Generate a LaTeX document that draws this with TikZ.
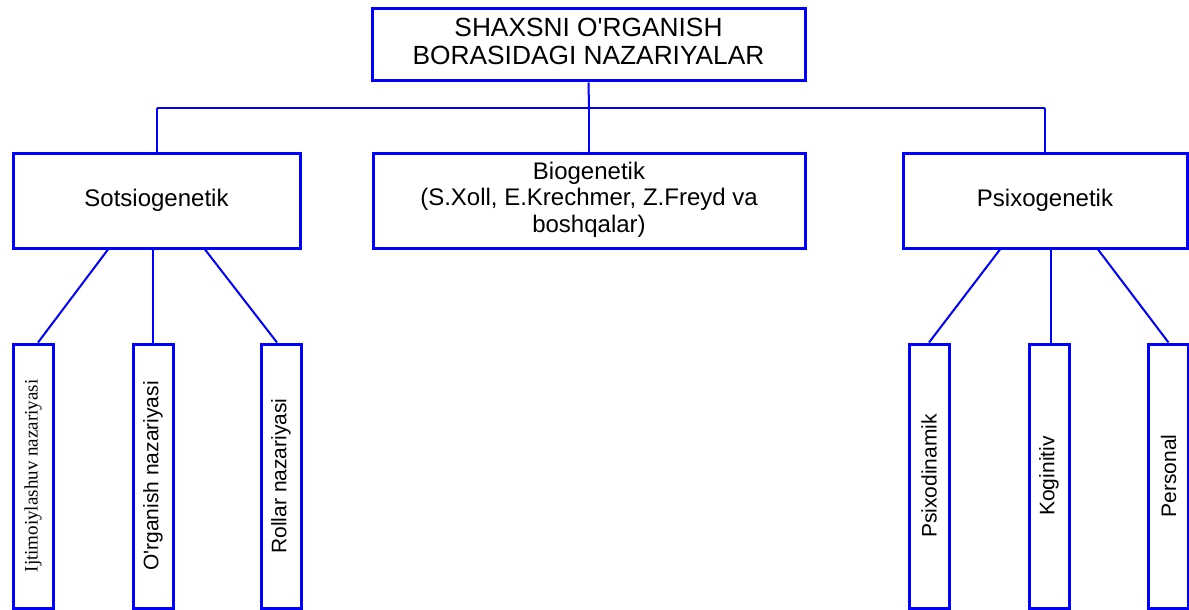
\documentclass[tikz,border=0pt]{standalone}
\usepackage{fontspec}
\usepackage{graphicx}
\newfontfamily\arialf{Liberation Sans}
\newfontfamily\timesf{Liberation Serif}
\usetikzlibrary{calc}
\definecolor{bblue}{RGB}{0,0,255}
\begin{document}
\begin{tikzpicture}[x=1pt,y=-1pt,
 box/.style={draw=bblue, line width=3pt, inner sep=0pt, align=center, text=black, font=\arialf\fontsize{24}{26.6}\selectfont},
 titlebox/.style={box, font=\arialf\fontsize{26.3}{27.5}\selectfont},
 vbox/.style={draw=bblue, line width=3pt, inner sep=0pt, minimum width=40pt, minimum height=264pt, font=\arialf\fontsize{21}{24}\selectfont},
 link/.style={draw=bblue, line width=2pt}]
\useasboundingbox[fill=white] (0,0) rectangle (1189,610);

\node[titlebox, minimum width=433pt, minimum height=72pt] (top) at (588.5,45)
  {\raisebox{4pt}{\begin{tabular}{@{}c@{}}SHAXSNI O'RGANISH\\BORASIDAGI NAZARIYALAR\end{tabular}}};

\node[box, minimum width=287pt, minimum height=95pt] (sots) at (156.5,200.5) {Sotsiogenetik};
\node[box, minimum width=432pt, minimum height=95pt] (bio) at (589,200.5)
  {\raisebox{-3pt}{\begin{tabular}{@{}c@{}}Biogenetik\\(S.Xoll, E.Krechmer, Z.Freyd va\\boshqalar)\end{tabular}}};
\node[box, minimum width=284pt, minimum height=95pt] (psix) at (1045,200.5) {Psixogenetik};

\node[vbox] (ijt) at (33,476) {\rotatebox{90}{\timesf\fontsize{19}{22}\selectfont Ijtimoiylashuv nazariyasi}};
\node[vbox] (org) at (153,476) {\rotatebox{90}{O'rganish nazariyasi}};
\node[vbox] (rol) at (281,476) {\rotatebox{90}{Rollar nazariyasi}};
\node[vbox] (pdin) at (929,476) {\rotatebox{90}{Psixodinamik}};
\node[vbox] (kog) at (1049,476) {\rotatebox{90}{Koginitiv}};
\node[vbox] (pers) at (1168.5,476) {\rotatebox{90}{Personal}};

\coordinate (bus) at (589,108);
\draw[link] (top.south) -- (bus);
\draw[link] (sots.north |- bus) -- (psix.north |- bus);
\draw[link] (sots.north |- bus) -- (sots.north);
\draw[link] (bio.north |- bus) -- (bio.north);
\draw[link] (psix.north |- bus) -- (psix.north);

\draw[link] ($(sots.south)+(-48.5,0)$) -- ($(ijt.north)+(5,0)$);
\draw[link] (org.north |- sots.south) -- (org.north);
\draw[link] ($(sots.south)+(48.5,0)$) -- ($(rol.north)+(-4,0)$);

\draw[link] ($(psix.south)+(-45,0)$) -- (pdin.north);
\draw[link] ($(kog.north |- psix.south)+(2,0)$) -- ($(kog.north)+(2,0)$);
\draw[link] ($(psix.south)+(53,0)$) -- (pers.north);
\end{tikzpicture}
\end{document}
